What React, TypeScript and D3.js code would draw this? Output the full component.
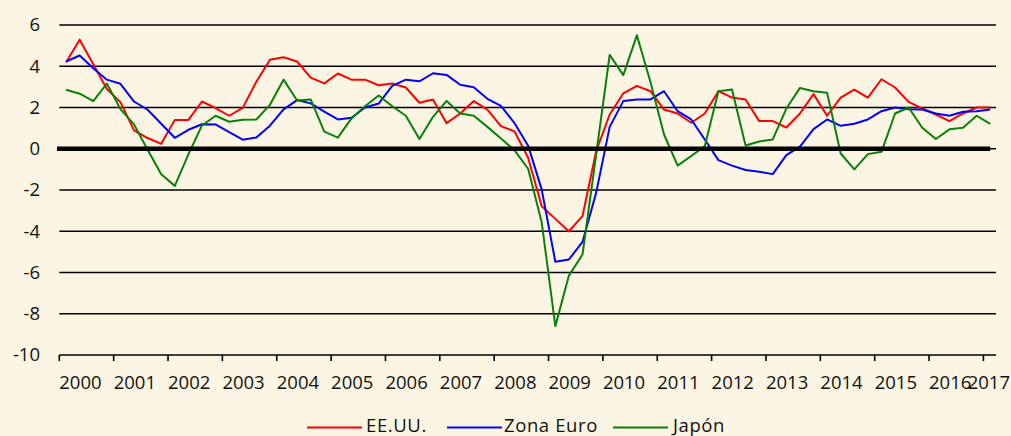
import { useMemo } from "react"
import * as d3 from "d3"

// Quarterly GDP growth (% y/y), 2000Q1 - 2017Q1
const years = d3.range(2000, 2018)
const quarters = years.flatMap((y) => [1, 2, 3, 4].map((q) => `${y}Q${q}`)).slice(0, 69)

const eeuu = [
  4.19, 5.29, 4.1, 2.9, 2.26, 0.89, 0.52, 0.24, 1.4, 1.4, 2.29, 1.97, 1.6, 1.98, 3.25, 4.32, 4.44, 4.23,
  3.45, 3.17, 3.65, 3.35, 3.35, 3.08, 3.16, 2.97, 2.23, 2.39, 1.24, 1.71, 2.31, 1.9, 1.1, 0.84, -0.44,
  -2.79, -3.4, -4.0, -3.27, -0.13, 1.66, 2.68, 3.05, 2.79, 1.9, 1.71, 1.26, 1.71, 2.79, 2.48, 2.39, 1.34,
  1.34, 1.03, 1.71, 2.65, 1.6, 2.48, 2.87, 2.48, 3.37, 2.97, 2.27, 1.95, 1.66, 1.34, 1.71, 2.0, 2.0,
]

const zonaEuro = [
  4.23, 4.52, 3.9, 3.35, 3.15, 2.29, 1.89, 1.21, 0.53, 0.92, 1.19, 1.18, 0.81, 0.44, 0.55, 1.12, 1.91,
  2.36, 2.2, 1.8, 1.42, 1.5, 2.0, 2.19, 3.05, 3.35, 3.27, 3.66, 3.58, 3.1, 2.98, 2.42, 2.08, 1.24, 0.15,
  -1.98, -5.48, -5.37, -4.52, -2.15, 1.06, 2.31, 2.39, 2.39, 2.79, 1.82, 1.42, 0.45, -0.55, -0.82, -1.03,
  -1.11, -1.23, -0.31, 0.1, 0.95, 1.42, 1.11, 1.21, 1.42, 1.82, 2.0, 1.92, 1.9, 1.71, 1.6, 1.79, 1.82, 1.9,
]

const japon = [
  2.86, 2.67, 2.31, 3.16, 1.92, 1.18, -0.05, -1.24, -1.8, -0.27, 1.13, 1.6, 1.31, 1.41, 1.42, 2.13, 3.35,
  2.34, 2.39, 0.83, 0.54, 1.47, 2.06, 2.58, 2.06, 1.6, 0.47, 1.55, 2.32, 1.71, 1.6, 1.06, 0.5, -0.08,
  -0.97, -3.58, -8.6, -6.15, -5.13, -0.3, 4.55, 3.57, 5.5, 3.24, 0.69, -0.82, -0.35, 0.13, 2.79, 2.87,
  0.16, 0.35, 0.45, 1.95, 2.95, 2.79, 2.71, -0.23, -1.0, -0.26, -0.15, 1.71, 2.0, 1.02, 0.47, 0.94, 1.02,
  1.6, 1.21,
]

const yTicks = [6, 4, 2, 0, -2, -4, -6, -8, -10]

const series = [
  { name: "EE.UU.", values: eeuu, color: "#ff0000" },
  { name: "Zona Euro", values: zonaEuro, color: "#0000ff" },
  { name: "Japón", values: japon, color: "#078107" },
]

// legend layout: line start, text start
const legendPos = [
  { lx: 307, tx: 366 },
  { lx: 447, tx: 504 },
  { lx: 613, tx: 673 },
]

const W = 1011
const H = 436
const font = "'Open Sans', sans-serif"
const fs = 18.5

export default function App() {
  const x = useMemo(() => d3.scaleBand<string>().domain(quarters).range([59.3, 997]), [])
  const y = useMemo(() => d3.scaleLinear().domain([-10, 6]).range([355, 25]), [])
  const cx = (i: number) => (x(quarters[i]) ?? 0) + x.bandwidth() / 2

  const line = d3
    .line<number>()
    .x((_, i) => cx(i))
    .y((d) => y(d))

  const x0 = 59.3
  const x1 = 996
  const lastX = cx(quarters.length - 1)

  return (
    <svg
      width={W}
      height={H}
      style={{ position: "absolute", left: 0, top: 0, background: "#fdf5e3" }}
      fontFamily={font}
    >
      {/* gridlines */}
      {yTicks.map((t) => (
        <g key={t}>
          <line x1={x0} x2={x1} y1={y(t)} y2={y(t)} stroke="#000" strokeWidth={1.6} />
          <text x={40} y={y(t)} dy="0.35em" textAnchor="end" fontSize={fs} fill="#111">
            {t}
          </text>
        </g>
      ))}

      {/* year ticks & labels */}
      {years.map((yr) => {
        const tx = x(`${yr}Q1`) ?? 0
        const last = yr === 2017
        return (
          <g key={yr}>
            <line x1={tx} x2={tx} y1={y(-10)} y2={y(-10) + 6} stroke="#000" strokeWidth={1.6} />
            <text
              x={last ? 1010 : tx}
              y={389}
              textAnchor={last ? "end" : "start"}
              fontSize={fs}
              fill="#111"
            >
              {yr}
            </text>
          </g>
        )
      })}

      {/* series */}
      {series.map((s) => (
        <path key={s.name} d={line(s.values) ?? ""} fill="none" stroke={s.color} strokeWidth={2} strokeLinejoin="round" />
      ))}

      {/* thick zero line */}
      <line x1={57} x2={lastX} y1={y(0)} y2={y(0)} stroke="#000" strokeWidth={4.5} />

      {/* legend */}
      {series.map((s, i) => (
        <g key={s.name}>
          <line
            x1={legendPos[i].lx}
            x2={legendPos[i].lx + 55}
            y1={427.5}
            y2={427.5}
            stroke={s.color}
            strokeWidth={2}
          />
          <text x={legendPos[i].tx} y={432} fontSize={fs} letterSpacing={0.6} fill="#111">
            {s.name}
          </text>
        </g>
      ))}
    </svg>
  )
}
